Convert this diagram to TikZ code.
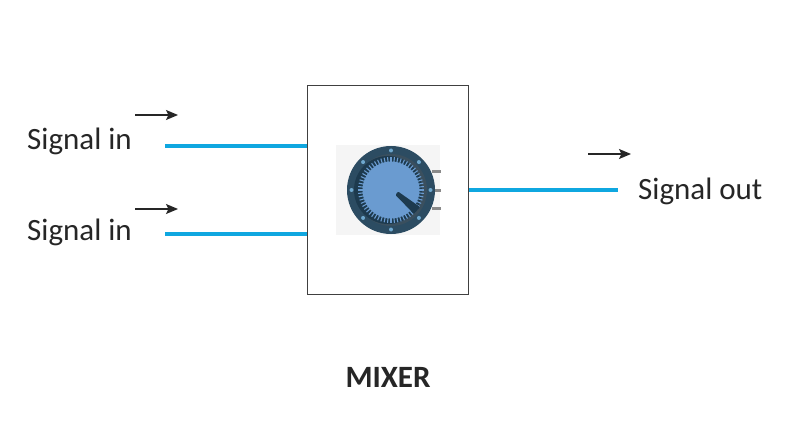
\documentclass[tikz,border=0pt]{standalone}
\usepackage{fontspec}
\setmainfont{Carlito}
\usetikzlibrary{arrows.meta,calc}
\definecolor{sigblue}{HTML}{0FA7E0}
\definecolor{txt}{HTML}{262626}
\definecolor{ringout}{HTML}{2C4C62}
\definecolor{ringin}{HTML}{1D3A4E}
\definecolor{ringshade}{HTML}{3A4F5E}
\definecolor{dial}{HTML}{6A9BD0}
\definecolor{bolt}{HTML}{6FA8CE}
\definecolor{tab}{HTML}{8A8A8A}
\tikzset{
  x=1pt,y=-1pt,
  sigline/.style={draw=sigblue,line width=3.2pt},
  flowarrow/.style={draw=txt,line width=1.2pt,-{Stealth[length=12pt,width=10pt,inset=2.5pt]}},
  sigtext/.style={font=\fontsize{31}{34}\selectfont,text=txt,inner sep=0pt},
  mixbox/.style={draw=black!75,line width=0.8pt,fill=white,minimum width=161.5pt,minimum height=209.5pt,inner sep=0pt},
}
\begin{document}
\begin{tikzpicture}
\useasboundingbox (0,0) rectangle (787,441);
\fill[white] (0,0) rectangle (787,441);
% box
\node[mixbox] (mixer) at (388,190) {};
% free ends
\coordinate (in1) at (165,146);
\coordinate (in2) at (165,234);
\coordinate (out1) at (618,190);
\draw[sigline] (in1) -- (mixer.west |- in1);
\draw[sigline] (in2) -- (mixer.west |- in2);
\draw[sigline] (mixer.east |- out1) -- (out1);
% flow arrows
\coordinate (a1s) at (135,115); \coordinate (a1e) at (178,115);
\coordinate (a2s) at (135,209); \coordinate (a2e) at (178,209);
\coordinate (a3s) at (588,154); \coordinate (a3e) at (631,154);
\draw[flowarrow] (a1s) -- (a1e);
\draw[flowarrow] (a2s) -- (a2e);
\draw[flowarrow] (a3s) -- (a3e);
% labels
\node[sigtext,anchor=west] (l1) at (27,141) {Signal in};
\node[sigtext,anchor=west] (l2) at (27,232) {Signal in};
\node[sigtext,anchor=west] (l3) at (638,191) {Signal out};
\node[font=\fontsize{31}{34}\selectfont\bfseries,text=txt,inner sep=0pt] (title) at (388,377) {MIXER};
% knob
\fill[black!4] (336,145) rectangle (440,235);
\fill[tab] (432,169.5) rectangle (441,172.5);
\fill[tab] (432,188.5) rectangle (441,191.5);
\fill[tab] (432,206.5) rectangle (441,209.5);
\fill[ringout] (391,190) circle[radius=44];
\fill[ringshade] (391,190) circle[radius=36];
\fill[ringin] (388,190) circle[radius=34];
\foreach \a in {0,6,...,354}{
  \draw[dial,line width=1.1pt] ($(391,190)+(\a:28)$) -- ($(391,190)+(\a:33)$);
}
\fill[dial] (391,190) circle[radius=28.5];
\foreach \a in {-90,-45,...,225}{
  \fill[bolt] ($(391,190)+(\a:39.5)$) circle[radius=2];
}
\fill[ringin,rounded corners=1pt] (395.5,195) -- (398,191.5) -- (420,207) -- (414,214) -- cycle;
\end{tikzpicture}
\end{document}
